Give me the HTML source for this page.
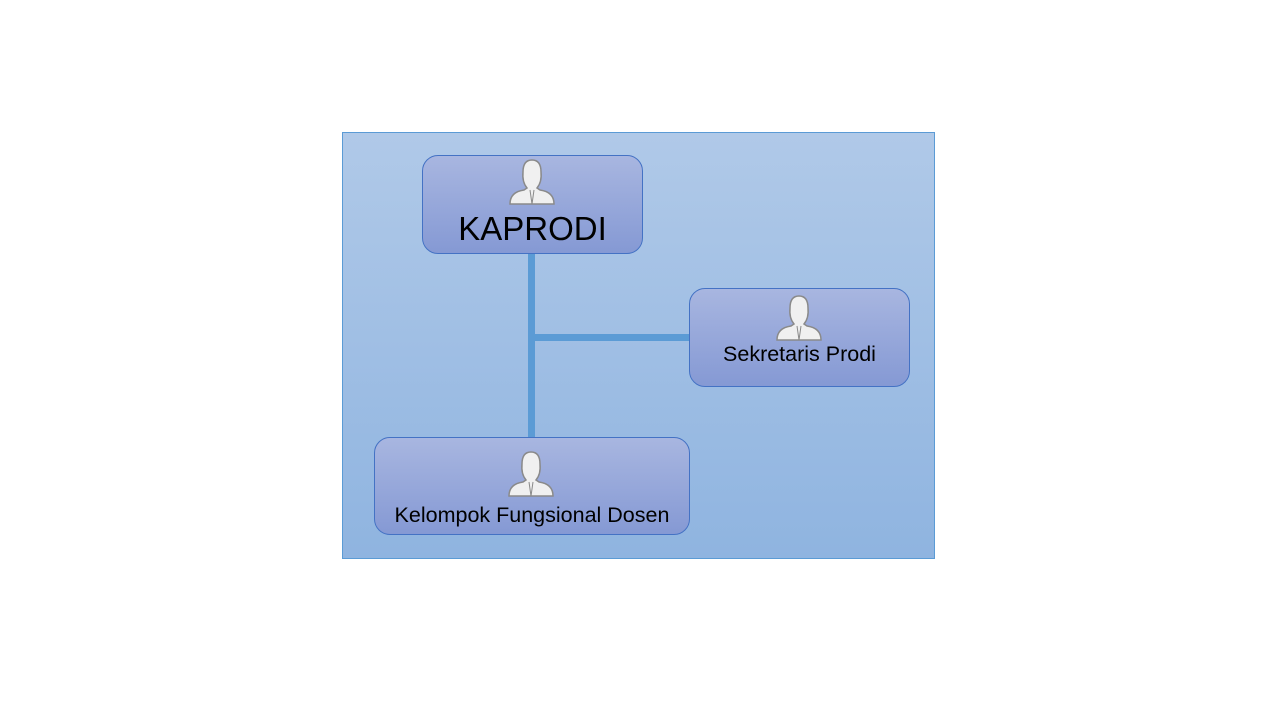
<!DOCTYPE html>
<html><head><meta charset="utf-8"><style>
body{margin:0;width:1280px;height:720px;background:#fff;position:relative;overflow:hidden;font-family:"Liberation Sans",sans-serif}
.bg{position:absolute;left:342px;top:132px;width:591px;height:425px;border:1px solid #5b9bd5;background:linear-gradient(#b0c9e8,#8fb4e0)}
.n{position:absolute;border:1px solid #4472c4;border-radius:16px;background:linear-gradient(#a8b6e0,#8599d4);text-align:center;color:#000;box-sizing:border-box}
.ic{position:absolute;left:50%;margin-left:-25px}
.l{position:absolute;background:#5b9bd5}
</style></head><body>
<div class="bg"></div>
<div class="l" style="left:528px;top:253px;width:7px;height:185px"></div>
<div class="l" style="left:531px;top:334px;width:159px;height:7px"></div>
<svg width="0" height="0" style="position:absolute"><defs><g id="p"><path d="M2 46 Q2 34 16 32 L19 30 Q14 24 15 14 Q15 2 24 2 Q33 2 33 14 Q34 24 29 30 L32 32 Q46 34 46 46 Z" fill="#f0f0f0" stroke="#8a8a8a" stroke-width="1.5"/><path d="M22 32 L24 46 L26 32" fill="none" stroke="#8a8a8a" stroke-width="1"/></g></defs></svg>
<div class="n" style="left:422px;top:155px;width:221px;height:99px">
<svg class="ic" style="top:2px" width="48" height="48"><use href="#p"/></svg>
<div style="position:absolute;top:54px;width:100%;font-size:33px">KAPRODI</div></div>
<div class="n" style="left:689px;top:288px;width:221px;height:99px">
<svg class="ic" style="top:5px" width="48" height="48"><use href="#p"/></svg>
<div style="position:absolute;top:53px;width:100%;font-size:21.5px">Sekretaris Prodi</div></div>
<div class="n" style="left:374px;top:437px;width:316px;height:98px">
<svg class="ic" style="top:12px" width="48" height="48"><use href="#p"/></svg>
<div style="position:absolute;top:65px;width:100%;font-size:21.5px">Kelompok Fungsional Dosen</div></div>
</body></html>
